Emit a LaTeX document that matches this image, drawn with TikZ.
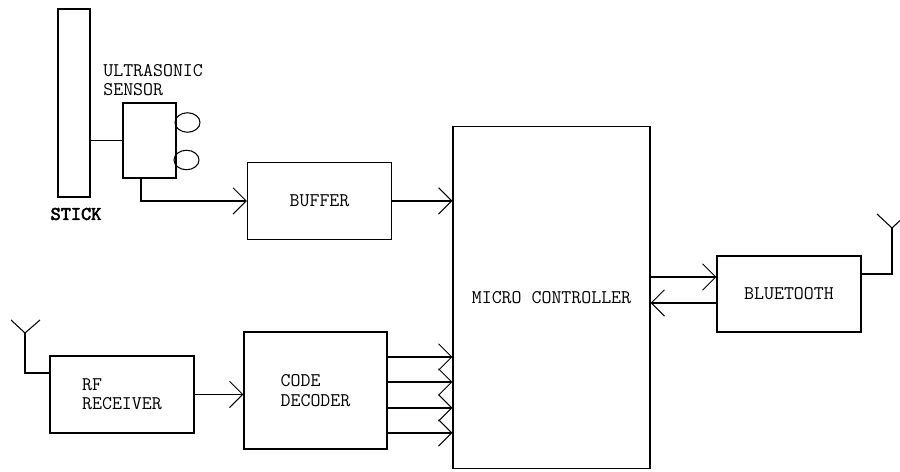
\documentclass[tikz,border=0pt]{standalone}
\usepackage{fontspec}
\newfontfamily\stickfont[FakeBold=3]{Latin Modern Mono}
\usetikzlibrary{positioning,arrows.meta,calc,shapes.geometric}

\begin{document}
\begin{tikzpicture}[x=0.02cm,y=-0.02cm,
    blk/.style={draw,line width=0.6pt,inner sep=0pt,align=left},
    eye/.style={draw,ellipse,line width=0.6pt,minimum width=0.5cm,minimum height=0.39cm,inner sep=0pt},
    sig/.style={line width=0.6pt,-{Straight Barb[length=7.5pt,width=15pt]}},
    wire/.style={line width=0.6pt},
    every node/.style={font=\ttfamily\fontsize{11pt}{11pt}\selectfont}]
  \useasboundingbox (0,0) rectangle (900,472);
  % stick and sensor
  \node[blk,minimum width=0.64cm,minimum height=3.76cm] (stick) at (74,103) {};
  \node[font=\stickfont\fontsize{11pt}{11pt}\selectfont] (sticklbl) at (76,214) {STICK};
  \node[blk,minimum width=1.06cm,minimum height=1.5cm] (sensor) at (149.5,140.5) {};
  \node[inner sep=0pt,align=left,anchor=south west] (sensorlbl) at (103,96) {ULTRASONIC\\SENSOR};
  \node[eye] (eye1) at (187.5,122.5) {};
  \node[eye] (eye2) at (186.5,160) {};
  % blocks
  \node[blk,minimum width=2.88cm,minimum height=1.54cm] (buffer) at (319.5,201) {BUFFER};
  \node[blk,minimum width=3.94cm,minimum height=6.86cm] (mc) at (551.5,297.5) {MICRO CONTROLLER};
  \node[blk,minimum width=2.88cm,minimum height=1.52cm] (bt) at (789,294) {BLUETOOTH};
  \node[blk,minimum width=2.88cm,minimum height=1.54cm] (rf) at (122,394.5) {RF\\RECEIVER};
  \node[blk,minimum width=2.86cm,minimum height=2.34cm] (cd) at (315.5,390.5) {CODE\\DECODER};
  \coordinate (rfant) at (25,333);
  \coordinate (btant) at (892,228);
  % connections
  \draw[wire] (stick.east |- sensor.west) -- (sensor.west);
  \draw[sig] ([xshift=-0.17cm]sensor.south) |- (buffer.west);
  \draw[sig] (buffer.east) -- (buffer.east -| mc.west);
  \draw[sig] ([yshift=0.34cm]bt.west -| mc.east) -- ([yshift=0.34cm]bt.west);
  \draw[sig] ([yshift=-0.18cm]bt.west) -- ([yshift=-0.18cm]bt.west -| mc.east);
  \draw[sig] (rf.east) -- (rf.east -| cd.west);
  \foreach \dy in {0.67,0.17,-0.35,-0.85}
    \draw[sig] ([yshift=\dy cm]cd.east) -- ([yshift=\dy cm]cd.east -| mc.west);
  % antennas
  \draw[wire] ([yshift=0.43cm]rf.west) -| (rfant);
  \draw[wire] (rfant) -- +(-14,-13) (rfant) -- +(15,-13);
  \draw[wire] ([yshift=0.4cm]bt.east) -| (btant);
  \draw[wire] (btant) -- +(-15,-14) (btant) -- +(15,-14);
\end{tikzpicture}
\end{document}
